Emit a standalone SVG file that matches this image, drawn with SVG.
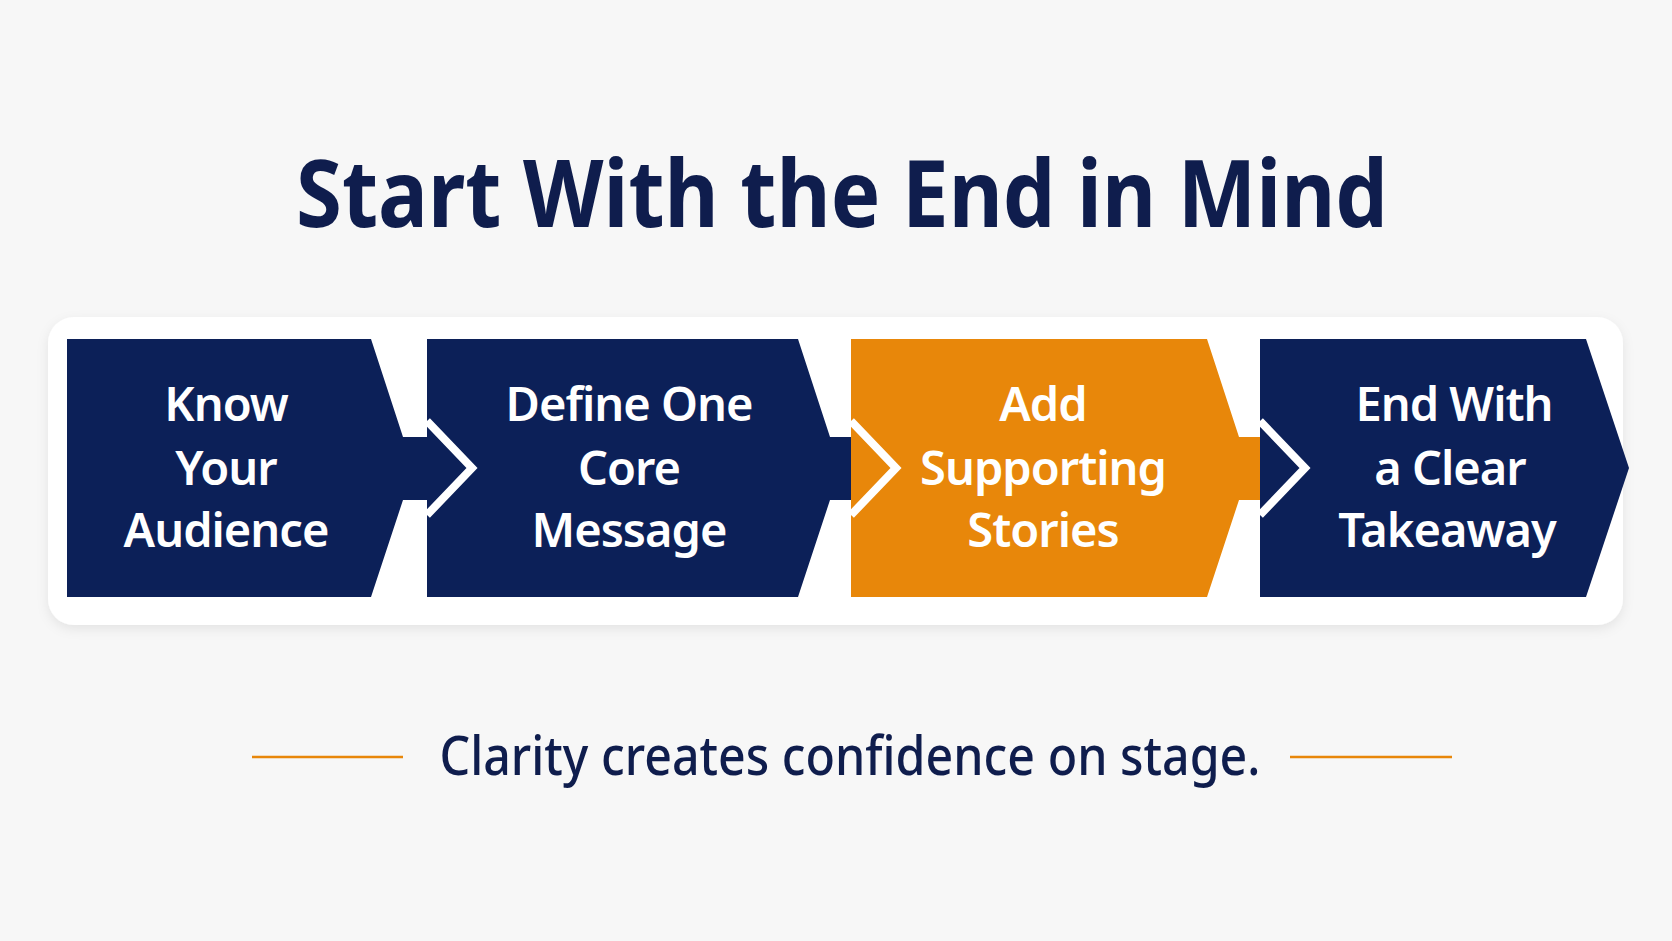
<svg xmlns="http://www.w3.org/2000/svg" width="1672" height="941" viewBox="0 0 1672 941">
<defs>
<filter id="sh" x="-5%" y="-10%" width="110%" height="130%"><feDropShadow dx="0" dy="4" stdDeviation="6" flood-color="#000" flood-opacity="0.08"/></filter>
<style>
.t{font-family:"Noto Sans","Open Sans",sans-serif;font-weight:600;fill:#fff;font-size:47px;text-anchor:middle;letter-spacing:-1px}
.nv{fill:#0c2058}.or{fill:#e8870a}
.n{fill:none;stroke:#fff;stroke-width:8}
</style>
</defs>
<rect width="1672" height="941" fill="#f7f7f7"/>
<text x="842" y="227" font-family="Noto Sans, Open Sans, sans-serif" font-weight="700" font-size="94" fill="#0f1d4d" text-anchor="middle" textLength="1092" lengthAdjust="spacingAndGlyphs">Start With the End in Mind</text>
<rect x="48" y="317" width="1575" height="308" rx="26" fill="#fff" filter="url(#sh)"/>
<g id="n1"><polygon class="nv" points="67,339 371,339 403,437 427,437 427,500 403,500 371,597 67,597"/>
<text class="t" x="226" y="421">Know</text><text class="t" x="226" y="485">Your</text><text class="t" x="226" y="547">Audience</text></g>
<g id="n2"><polygon class="nv" points="427,339 798,339 830,437 851,437 851,500 830,500 798,597 427,597"/>
<text class="t" x="629" y="421">Define One</text><text class="t" x="629" y="485">Core</text><text class="t" x="629" y="547">Message</text></g>
<g id="n3"><polygon class="or" points="851,339 1207,339 1239,437 1260,437 1260,500 1239,500 1207,597 851,597"/>
<text class="t" x="1043" y="421">Add</text><text class="t" x="1043" y="485">Supporting</text><text class="t" x="1043" y="547">Stories</text></g>
<g id="n4"><polygon class="nv" points="1260,339 1586,339 1629,468 1586,597 1260,597"/>
<text class="t" x="1454" y="421">End With</text><text class="t" x="1450" y="485">a Clear</text><text class="t" x="1447" y="547">Takeaway</text></g>
<g id="connectors">
<polyline class="n" points="427,421 472,468 427,515"/>
<polyline class="n" points="851,421 896,468 851,515"/>
<polyline class="n" points="1260,421 1305,468 1260,515"/>
</g>
<line x1="252" y1="757" x2="403" y2="757" stroke="#e8870a" stroke-width="2.5"/>
<line x1="1290" y1="757" x2="1452" y2="757" stroke="#e8870a" stroke-width="2.5"/>
<text x="850" y="775" font-family="Noto Sans, Open Sans, sans-serif" font-weight="500" font-size="54" fill="#0f1d4d" text-anchor="middle" textLength="821" lengthAdjust="spacingAndGlyphs">Clarity creates confidence on stage.</text>
</svg>
